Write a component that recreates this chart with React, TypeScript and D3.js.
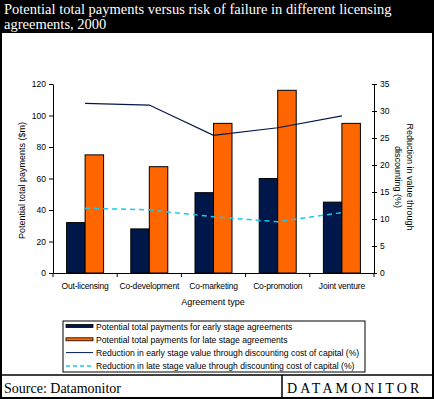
import React, { useEffect, useRef } from 'react';
import { select, scaleBand, scaleLinear, axisLeft, axisRight, axisBottom, line } from 'd3';

const categories = ['Out-licensing', 'Co-development', 'Co-marketing', 'Co-promotion', 'Joint venture'];
const earlyPayments = [32, 28, 51, 60, 45];
const latePayments = [75, 67.5, 95, 116, 95];
const earlyReduction = [31.4, 31.1, 25.5, 26.9, 29.1];
const lateReduction = [12.0, 11.7, 10.4, 9.5, 11.2];
const leftTicks = [0, 20, 40, 60, 80, 100, 120];
const rightTicks = [0, 5, 10, 15, 20, 25, 30, 35];
const legendLabels = [
  'Potential total payments for early stage agreements',
  'Potential total payments for late stage agreements',
  'Reduction in early stage value through discounting cost of capital (%)',
  'Reduction in late stage value through discounting cost of capital (%)',
];

const W = 434;
const H = 399;
const DARK = '#001849';
const ORANGE = '#ff6600';
const CYAN = '#19c8ee';
const SANS = 'Arial, "Liberation Sans", sans-serif';
const SERIF = '"Times New Roman", "Liberation Serif", serif';

const App = () => {
  const svgRef = useRef<SVGSVGElement>(null);

  useEffect(() => {
    const svg = select(svgRef.current);
    svg.selectAll('*').remove();

    const left = 53, right = 374, top = 84, bottom = 273;

    const x = scaleBand().domain(categories).range([left, right]);
    const sub = scaleBand().domain(['early', 'late']).range([0, 37]);
    const yL = scaleLinear().domain([0, 120]).range([bottom, top]);
    const yR = scaleLinear().domain([0, 35]).range([bottom, top]);

    // frame
    svg.append('rect').attr('x', 0).attr('y', 0).attr('width', W).attr('height', H).attr('fill', '#fff');
    svg.append('rect').attr('x', 0).attr('y', 0).attr('width', W).attr('height', 33).attr('fill', '#000');
    svg.append('rect').attr('x', 1).attr('y', 1).attr('width', W - 2).attr('height', H - 2)
      .attr('fill', 'none').attr('stroke', '#000').attr('stroke-width', 2);

    const title = svg.append('text').attr('fill', '#fff').attr('font-family', SERIF).attr('font-size', 14.5);
    title.append('tspan').attr('x', 4).attr('y', 14).text('Potential total payments versus risk of failure in different licensing');
    title.append('tspan').attr('x', 4).attr('y', 29).text('agreements, 2000');

    // bars
    const groups = svg.append('g').selectAll('g').data(categories).join('g')
      .attr('transform', d => `translate(${(x(d) as number) + x.bandwidth() / 2 - 18.5},0)`);
    groups.append('rect')
      .attr('x', sub('early') as number).attr('width', sub.bandwidth())
      .attr('y', (d, i) => yL(earlyPayments[i])).attr('height', (d, i) => bottom - yL(earlyPayments[i]))
      .attr('fill', DARK).attr('stroke', '#000').attr('stroke-width', 1);
    groups.append('rect')
      .attr('x', sub('late') as number).attr('width', sub.bandwidth())
      .attr('y', (d, i) => yL(latePayments[i])).attr('height', (d, i) => bottom - yL(latePayments[i]))
      .attr('fill', ORANGE).attr('stroke', '#000').attr('stroke-width', 1);

    // lines
    const cx = (i: number) => (x(categories[i]) as number) + x.bandwidth() / 2;
    const lineGen = line<number>().x((d, i) => cx(i)).y(d => yR(d));
    svg.append('path').attr('d', lineGen(earlyReduction)).attr('fill', 'none')
      .attr('stroke', DARK).attr('stroke-width', 1.2);
    svg.append('path').attr('d', lineGen(lateReduction)).attr('fill', 'none')
      .attr('stroke', CYAN).attr('stroke-width', 1.5).attr('stroke-dasharray', '5,4');

    // axes
    const fmt = (g: any) => {
      g.selectAll('text').attr('font-family', SANS).attr('font-size', 8.5).attr('fill', '#000');
      g.selectAll('line,path').attr('stroke', '#000');
    };
    svg.append('g').attr('transform', `translate(${left},0)`)
      .call(axisLeft(yL).tickValues(leftTicks).tickSize(4).tickSizeOuter(0).tickPadding(3))
      .call(fmt);
    svg.append('g').attr('transform', `translate(${right},0)`)
      .call(axisRight(yR).tickValues(rightTicks).tickSize(3).tickSizeOuter(0).tickPadding(3))
      .call(fmt)
      .call(g => g.selectAll('.tick line').attr('x1', -2));
    const xAxis = svg.append('g').attr('transform', `translate(0,${bottom})`)
      .call(axisBottom(x).tickSize(0).tickSizeOuter(0).tickPadding(10))
      .call(fmt);
    xAxis.selectAll('.tick text').attr('letter-spacing', -0.2);
    const bounds = categories.map(c => x(c) as number).concat([right]);
    xAxis.selectAll('.sep').data(bounds).join('line').attr('class', 'sep')
      .attr('x1', d => d).attr('x2', d => d).attr('y1', 0).attr('y2', 4).attr('stroke', '#000');

    svg.append('text').attr('x', 213).attr('y', 305).attr('text-anchor', 'middle')
      .attr('font-family', SANS).attr('font-size', 9).text('Agreement type');
    svg.append('text').attr('transform', `translate(25,${(top + bottom) / 2 + 2}) rotate(-90)`)
      .attr('text-anchor', 'middle').attr('font-family', SANS).attr('font-size', 9)
      .text('Potential total payments ($m)');
    const rt = svg.append('text').attr('transform', `translate(407,177) rotate(90)`)
      .attr('text-anchor', 'middle').attr('font-family', SANS).attr('font-size', 9);
    rt.append('tspan').attr('x', 0).attr('y', 0).text('Reduction in value through');
    rt.append('tspan').attr('x', 0).attr('y', 12).text('discounting (%)');

    // legend
    const lg = svg.append('g').attr('transform', 'translate(63,321)');
    lg.append('rect').attr('x', 0).attr('y', 0).attr('width', 302).attr('height', 51)
      .attr('fill', '#fff').attr('stroke', '#000');
    const rows = lg.selectAll('g').data(legendLabels).join('g')
      .attr('transform', (d, i) => `translate(0,${5 + i * 13.3})`);
    rows.each(function (d, i) {
      const r = select(this);
      if (i < 2) {
        r.append('rect').attr('x', 3).attr('y', -1.5).attr('width', 27).attr('height', 3)
          .attr('fill', i === 0 ? DARK : ORANGE).attr('stroke', '#000').attr('stroke-width', 0.8);
      } else {
        r.append('line').attr('x1', 3).attr('x2', 30).attr('y1', 0).attr('y2', 0)
          .attr('stroke', i === 2 ? DARK : CYAN).attr('stroke-width', i === 2 ? 1 : 1.5)
          .attr('stroke-dasharray', i === 2 ? null : '4,3');
      }
      r.append('text').attr('x', 33).attr('y', 3.5).attr('font-family', SANS).attr('font-size', 8.6).text(d);
    });

    // footer
    svg.append('line').attr('x1', 0).attr('x2', W).attr('y1', 375).attr('y2', 375).attr('stroke', '#000').attr('stroke-width', 1.5);
    svg.append('line').attr('x1', 282).attr('x2', 282).attr('y1', 375).attr('y2', H).attr('stroke', '#000').attr('stroke-width', 1.5);
    svg.append('text').attr('x', 4).attr('y', 393).attr('font-family', SERIF).attr('font-size', 14).text('Source: Datamonitor');
    svg.append('text').attr('x', 287).attr('y', 393).attr('font-family', SERIF).attr('font-size', 14)
      .attr('letter-spacing', 3.1).text('DATAMONITOR');
  }, []);

  return (
    <svg ref={svgRef} width={W} height={H} style={{ position: 'absolute', left: 0, top: 0 }} />
  );
};

export default App;
